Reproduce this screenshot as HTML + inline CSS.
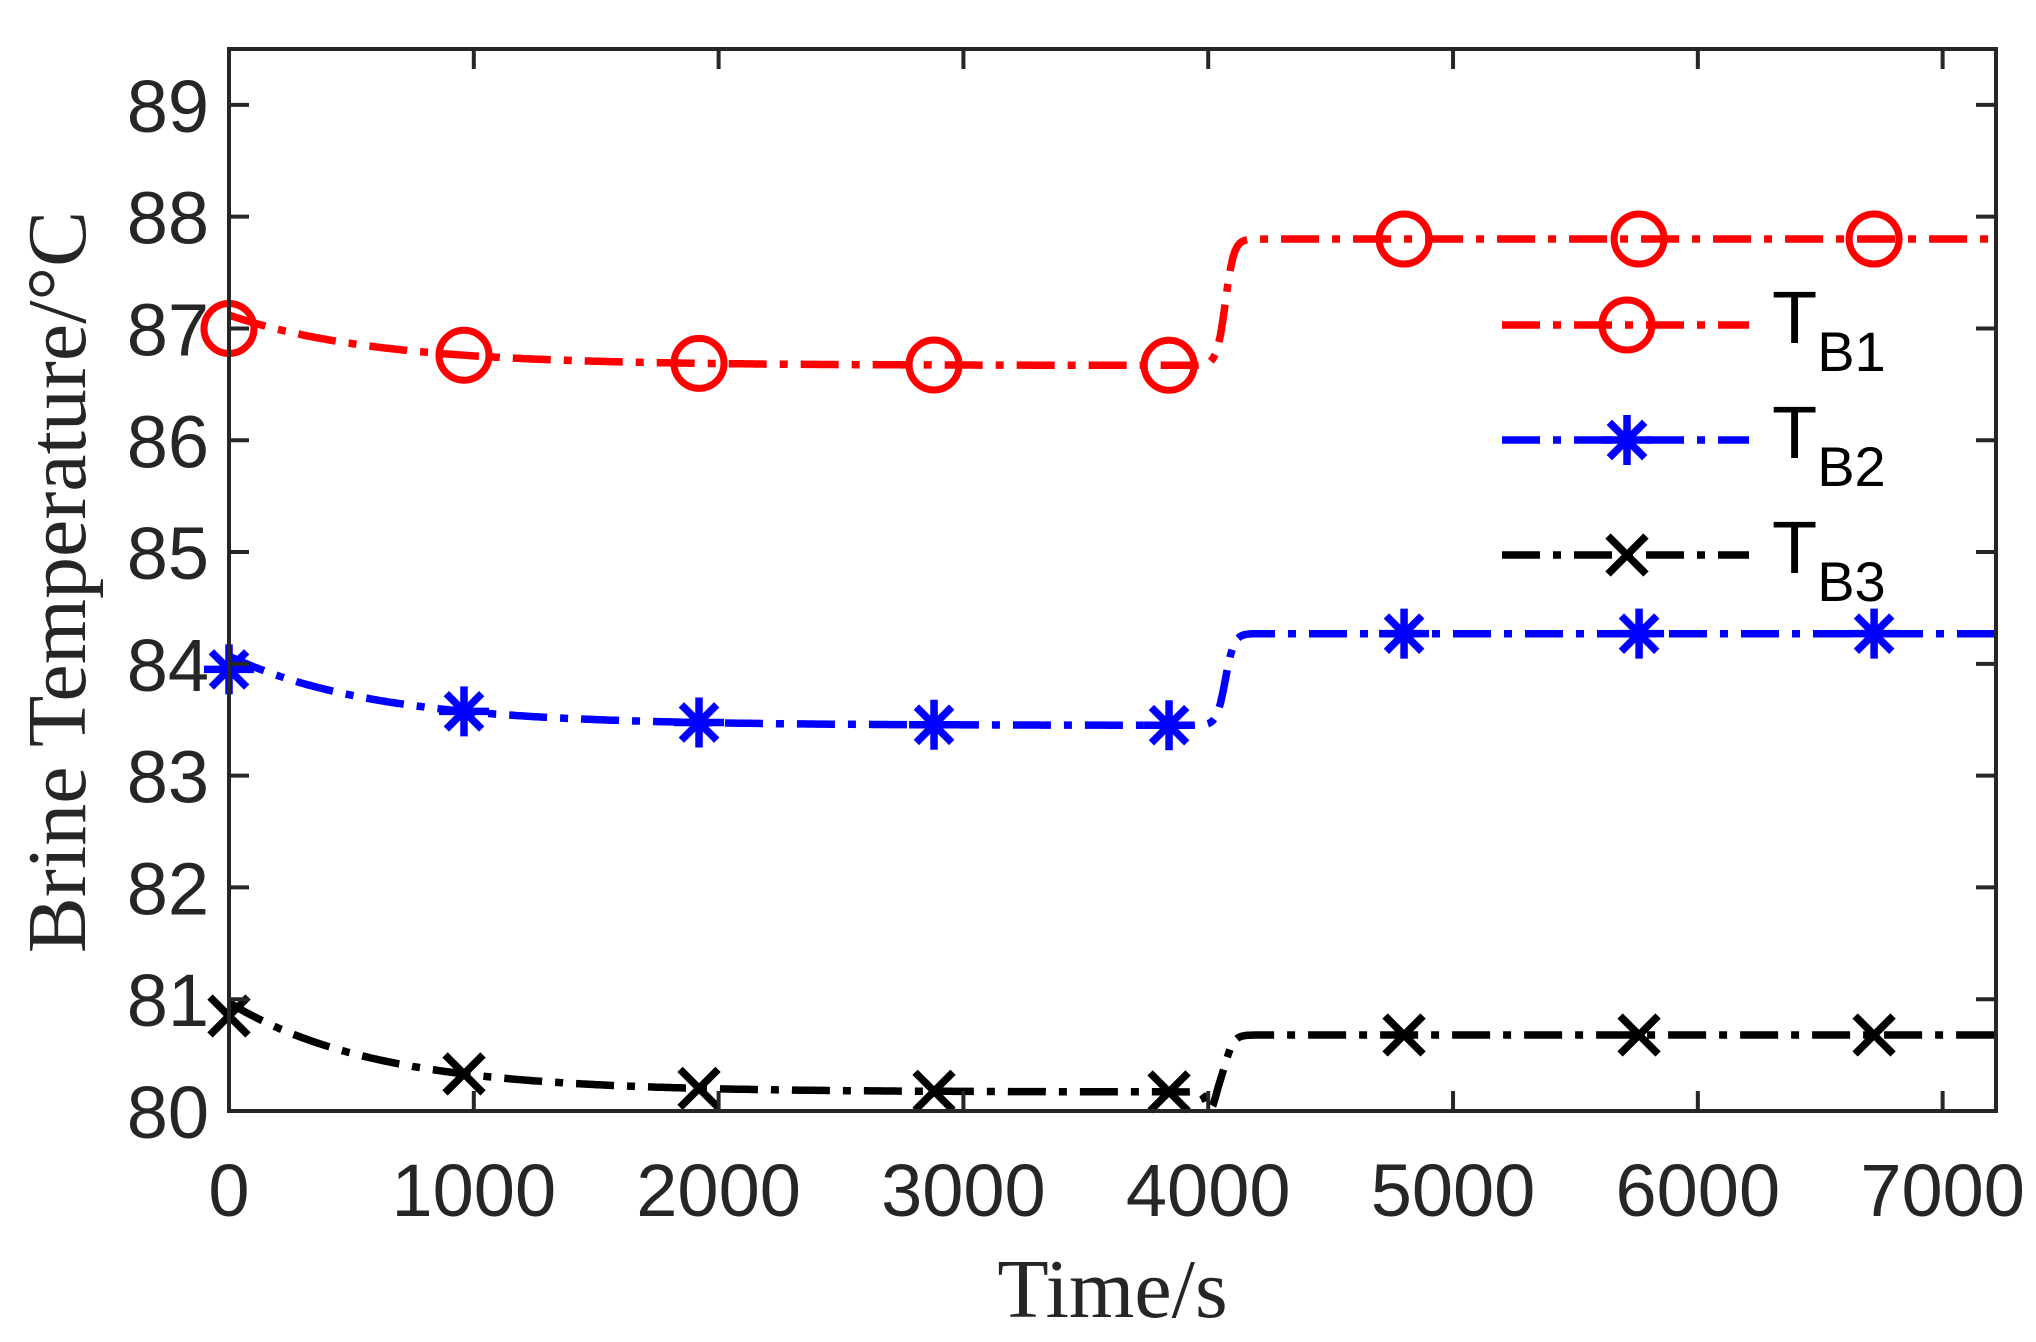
<!DOCTYPE html>
<html><head><meta charset="utf-8"><style>
html,body{margin:0;padding:0;background:#fff;}
svg{display:block;}
</style></head><body>
<svg id="s" width="2036" height="1342" xmlns="http://www.w3.org/2000/svg"></svg>
<script>
const X0=229,X1=1996,Y0=1111,Y1=49;
const xmin=0,xmax=7218,ymin=80,ymax=89.5;
const sx=t=>X0+(t-xmin)/(xmax-xmin)*(X1-X0);
const sy=v=>Y0-(v-ymin)/(ymax-ymin)*(Y0-Y1);
let h='';
function step(t,c,w){return 0.5*(1+Math.tanh((t-c)/w));}
const series=[
 {c:'#ff0000',inf:86.67,A:0.45,hi:87.8,m:'o',dip:0},
 {c:'#0000ff',inf:83.45,A:0.62,hi:84.27,m:'*',dip:0},
 {c:'#000000',inf:80.17,A:0.8,hi:80.68,m:'x',dip:0.17}
];
function f(s,t){
 const base=s.inf+s.A*Math.exp(-t/600);
 const st=step(t,4070,35);
 let v=base*(1-st)+s.hi*st;
 if(s.dip) v-=s.dip*Math.exp(-Math.pow((t-4010)/25,2));
 return v;
}
function marker(s,x,y){
 if(s.m=='o') return `<circle cx="${x}" cy="${y}" r="25" fill="none" stroke="${s.c}" stroke-width="7"/>`;
 if(s.m=='*'){let r=25,o='';for(let a=0;a<4;a++){const an=a*Math.PI/4;o+=`<line x1="${x-r*Math.cos(an)}" y1="${y-r*Math.sin(an)}" x2="${x+r*Math.cos(an)}" y2="${y+r*Math.sin(an)}" stroke="${s.c}" stroke-width="7.5"/>`;}return o;}
 let r=19;return `<line x1="${x-r}" y1="${y-r}" x2="${x+r}" y2="${y+r}" stroke="${s.c}" stroke-width="7.5"/><line x1="${x-r}" y1="${y+r}" x2="${x+r}" y2="${y-r}" stroke="${s.c}" stroke-width="7.5"/>`;
}
const dash='38 13 8 13';
for(const s of series){
 let p='';
 for(let t=0;t<=xmax;t+=10){p+=(t?'L':'M')+sx(t).toFixed(1)+' '+sy(f(s,t)).toFixed(1);}
 h+=`<path d="${p}" fill="none" stroke="${s.c}" stroke-width="7.5" stroke-dasharray="${dash}"/>`;
}
const mk=[0,960,1920,2880,3840,4800,5760,6720];
for(const s of series){for(const t of mk){let v=f(s,t);if(t==0)v-=0.12;h+=marker(s,sx(t),sy(v));}}
h+=`<rect x="${X0}" y="${Y1}" width="${X1-X0}" height="${Y0-Y1}" fill="none" stroke="#262626" stroke-width="4"/>`;
for(let v=80;v<=89;v++){const y=sy(v);h+=`<line x1="${X0}" y1="${y}" x2="${X0+20}" y2="${y}" stroke="#262626" stroke-width="4"/><line x1="${X1}" y1="${y}" x2="${X1-20}" y2="${y}" stroke="#262626" stroke-width="4"/>`;
 h+=`<text x="${X0-20}" y="${y+27}" text-anchor="end" font-family="Liberation Sans, sans-serif" font-size="74" fill="#262626">${v}</text>`;}
for(let t=0;t<=7000;t+=1000){const x=sx(t);h+=`<line x1="${x}" y1="${Y0}" x2="${x}" y2="${Y0-20}" stroke="#262626" stroke-width="4"/><line x1="${x}" y1="${Y1}" x2="${x}" y2="${Y1+20}" stroke="#262626" stroke-width="4"/>`;
 h+=`<text x="${x}" y="${Y0+105}" text-anchor="middle" font-family="Liberation Sans, sans-serif" font-size="74" fill="#262626">${t}</text>`;}
h+=`<text x="${(X0+X1)/2}" y="1317" text-anchor="middle" font-family="Liberation Serif, serif" font-size="84" fill="#262626">Time/s</text>`;
h+=`<text transform="translate(85,582) rotate(-90)" text-anchor="middle" font-family="Liberation Serif, serif" font-size="84" fill="#262626">Brine Temperature/°C</text>`;
const ly=[325,440,555];
series.forEach((s,i)=>{const y=ly[i];
 h+=`<line x1="1502" y1="${y}" x2="1749" y2="${y}" stroke="${s.c}" stroke-width="7.5" stroke-dasharray="${dash}"/>`;
 h+=marker(s,1627,y);
 h+=`<text x="1772" y="${y+18}" font-family="Liberation Sans, sans-serif" font-size="74" fill="#000">T<tspan font-size="56" dy="28">B${i+1}</tspan></text>`;});
document.getElementById('s').innerHTML=h;
</script>
</body></html>
